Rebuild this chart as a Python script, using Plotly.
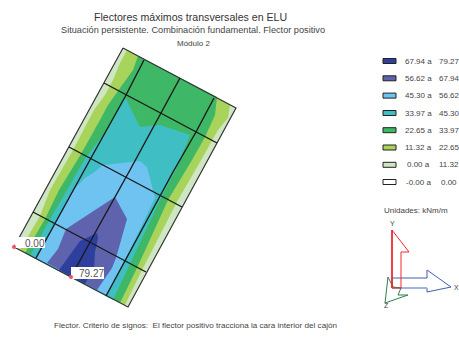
import plotly.graph_objects as go

# Plate outline and nested contour regions (chart coordinates)
plate = [(123,48),(236,108),(128,307),(14,247)]
region_11 = [(127,50),(230,105),(228,118),(218,130),(200,162),(178,200),(142,270),(125,305),(20,250),(40,216),(50,190),(73,150),(94,110),(105,95),(113,80),(120,63)]
region_22 = [(138,56),(217,97),(215,115),(205,137),(192,160),(168,200),(137,268),(120,303),(25,253),(45,219),(59,190),(81,154),(100,120),(108,105),(120,88),(133,70)]
region_33 = [(125,97),(140,127),(160,125),(190,135),(177,167),(160,200),(130,264),(113,300),(30,256),(49,221),(67,190),(86,157),(107,130)]
region_45 = [(140,161),(147,167),(155,198),(130,250),(106,296),(37,258),(55,223),(73,190),(85,178),(93,173),(103,165)]
region_56 = [(115,197),(127,219),(116,258),(112,268),(97,290),(47,263),(58,249),(66,229)]
region_67 = [(97,233),(98,238),(95,252),(94,268),(85,284),(59,270),(80,241)]

transverse_1 = [(104,83),(217,143)]
transverse_2 = [(69,147),(182,207)]
transverse_3 = [(33,212),(146,272)]
longitudinal_1 = [(144,60),(125,97),(91,158),(54,225),(36,258)]
longitudinal_2 = [(180,78),(161,113),(130,170),(95,233),(71,277)]
longitudinal_3 = [(214,98),(196,132),(173,172),(160,196),(125,260),(106,296)]

arrow_x = [(392,278),(427,278),(427,270),(451,287),(427,292),(427,288),(392,288)]
arrow_y = [(392,288),(392,230),(409,252),(401,252),(401,288),(392,288)]
arrow_z = [(393,287),(388,277),(385,303),(408,295),(398,295),(401,288)]

legend_low = ["67.94 a","56.62 a","45.30 a","33.97 a","22.65 a","11.32 a","0.00 a","-0.00 a"]
legend_high = ["79.27","67.94","56.62","45.30","33.97","22.65","11.32","0.00"]
legend_colors = ["#2E3F9E","#5F63AE","#6EC3F0","#3FBFC4","#3EB866","#A8D45C","#CFE6C4","#FFFFFF"]
legend_y = [61,78.3,95.6,113,130.2,147.5,164.8,182]

fig = go.Figure()

def poly(pts, fill, line=None, width=0, closed=True):
    xs = [p[0] for p in pts] + ([pts[0][0]] if closed else [])
    ys = [p[1] for p in pts] + ([pts[0][1]] if closed else [])
    fig.add_trace(go.Scatter(
        x=xs, y=ys, mode="lines", hoverinfo="skip", showlegend=False,
        fill="toself" if fill else None, fillcolor=fill,
        line=dict(color=line or "rgba(0,0,0,0)", width=width)))

for pts, col in [(plate,"#CFE6C4"),(region_11,"#A8D45C"),(region_22,"#3EB866"),
                 (region_33,"#3FBFC4"),(region_45,"#6EC3F0"),(region_56,"#5F63AE"),(region_67,"#2E3F9E")]:
    poly(pts, col)

poly(plate, None, "#333333", 1.2)
for ln in (transverse_1, transverse_2, transverse_3, longitudinal_1, longitudinal_2, longitudinal_3):
    poly(ln, None, "#1A1A1A", 1.4, closed=False)

poly(arrow_x, None, "#3F5FB0", 1)
poly([arrow_x[-1], arrow_x[-2]], None, "#9FB4DE", 2, closed=False)
poly(arrow_z, None, "#2F7F4F", 1)
poly(arrow_y, None, "#F0282E", 1)
poly([arrow_y[0], arrow_y[1]], None, "#F0282E", 1.6, closed=False)

for y, col in zip(legend_y, legend_colors):
    poly([(383,y-2.5),(396,y-2.5),(396,y+2.5),(383,y+2.5)], col, "#222222", 1)

def label(x, y, s, size=8, color="#444444", anchor="center", bg=None, pad=0):
    fig.add_annotation(x=x, y=y, text=s, showarrow=False, xanchor=anchor, yanchor="middle",
                       font=dict(family="Liberation Sans", size=size, color=color),
                       bgcolor=bg, borderpad=pad, xref="x", yref="y")

label(190.5,17,"Flectores máximos transversales en ELU",10.6,"#333333")
label(192.5,30,"Situación persistente. Combinación fundamental. Flector positivo",9.2,"#444444")
label(193,43,"Módulo 2",8)
label(195,325,"Flector. Criterio de signos:  El flector positivo tracciona la cara interior del cajón",8.1)
label(383,210,"Unidades: kNm/m",8,anchor="left")
for y, lo, hi in zip(legend_y, legend_low, legend_high):
    label(418,y,lo,8)
    label(449,y,hi,8)
label(392,223,"Y",7); label(456,287,"X",7); label(386,305,"Z",7)

poly([(15,237),(45,237),(45,248),(15,248)], "#FFFFFF")
poly([(71,267),(104,267),(104,279),(71,279)], "#FFFFFF")
label(34.5,243,"0.00",10,"#555555")
label(91.5,273,"79.27",10,"#555555")
fig.add_trace(go.Scatter(x=[14,71], y=[247,277], mode="markers",
                         marker=dict(color="#F2505F",size=4), hoverinfo="skip", showlegend=False))

fig.update_xaxes(range=[0,459], visible=False, fixedrange=True)
fig.update_yaxes(range=[338,0], visible=False, fixedrange=True)
fig.update_layout(width=459, height=338, margin=dict(l=0,r=0,t=0,b=0),
                  paper_bgcolor="white", plot_bgcolor="white", showlegend=False)
fig.write_html("out.html", config=dict(displayModeBar=False),
               post_script="document.body.style.margin='0';document.documentElement.style.overflow='hidden';")
